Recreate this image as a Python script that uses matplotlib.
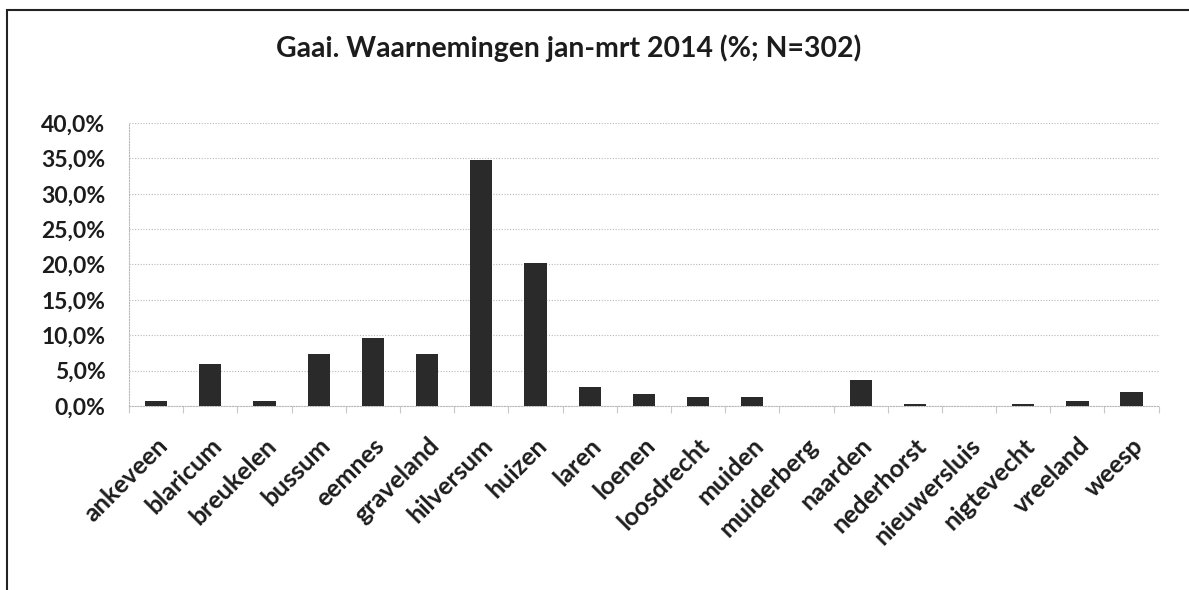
import numpy as np
import matplotlib.pyplot as plt
from matplotlib.patches import Rectangle
from matplotlib.ticker import FuncFormatter

plaatsen = ['ankeveen', 'blaricum', 'breukelen', 'bussum', 'eemnes', 'graveland',
            'hilversum', 'huizen', 'laren', 'loenen', 'loosdrecht', 'muiden',
            'muiderberg', 'naarden', 'nederhorst', 'nieuwersluis', 'nigtevecht',
            'vreeland', 'weesp']
procent = [0.66, 5.96, 0.66, 7.28, 9.60, 7.28, 34.77, 20.20, 2.65, 1.66, 1.32,
           1.32, 0.0, 3.64, 0.33, 0.0, 0.33, 0.66, 1.99]

plt.rcParams['font.family'] = ['Lato', 'DejaVu Sans']

fig = plt.figure(figsize=(11.89, 5.90), dpi=100)
ax = fig.add_axes([0.1085, 0.312, 0.866, 0.4795])

x = np.arange(len(plaatsen))
ax.bar(x, procent, width=0.41, color='#2a2a2a', zorder=3)

ax.set_xlim(-0.5, len(plaatsen) - 0.5)
ax.set_ylim(0, 40)
ax.set_yticks(np.arange(0, 41, 5))
ax.yaxis.set_major_formatter(FuncFormatter(lambda v, p: ('%.1f%%' % v).replace('.', ',')))
ax.grid(axis='y', color='#b8b8b8', linestyle=(0, (1, 1.5)), linewidth=0.8, zorder=0)

ax.set_xticks(x)
ax.set_xticklabels(plaatsen, rotation=45, ha='right', va='top', rotation_mode='anchor',
                   fontsize=18, fontweight='bold', color='#1c1c1c')
for lab in ax.get_yticklabels():
    lab.set_fontsize(16.5)
    lab.set_fontweight('bold')
    lab.set_color('#1c1c1c')
ax.tick_params(axis='x', length=0, pad=20)
ax.tick_params(axis='y', length=0, pad=17)

# kleine streepjes tussen de categorieen
ax.set_xticks(np.arange(-0.5, len(plaatsen), 1), minor=True)
ax.tick_params(axis='x', which='minor', length=5, color='#c8c8c8', width=0.8)

for s in ['top', 'right']:
    ax.spines[s].set_visible(False)
for s in ['bottom', 'left']:
    ax.spines[s].set_color('#b8b8b8')
    ax.spines[s].set_linestyle((0, (1, 1.5)))
    ax.spines[s].set_linewidth(0.8)

fig.text(0.478, 0.918, 'Gaai. Waarnemingen jan-mrt 2014 (%; N=302)',
         ha='center', va='center', fontsize=20.4, fontweight='bold', color='#1c1c1c')

fig.patches.append(Rectangle((7 / 1189, -0.05), 1.1, 1 - 10 / 590 + 0.05,
                             transform=fig.transFigure, fill=False,
                             edgecolor='#222222', linewidth=1.5))

fig.savefig('out.png', dpi=100)
